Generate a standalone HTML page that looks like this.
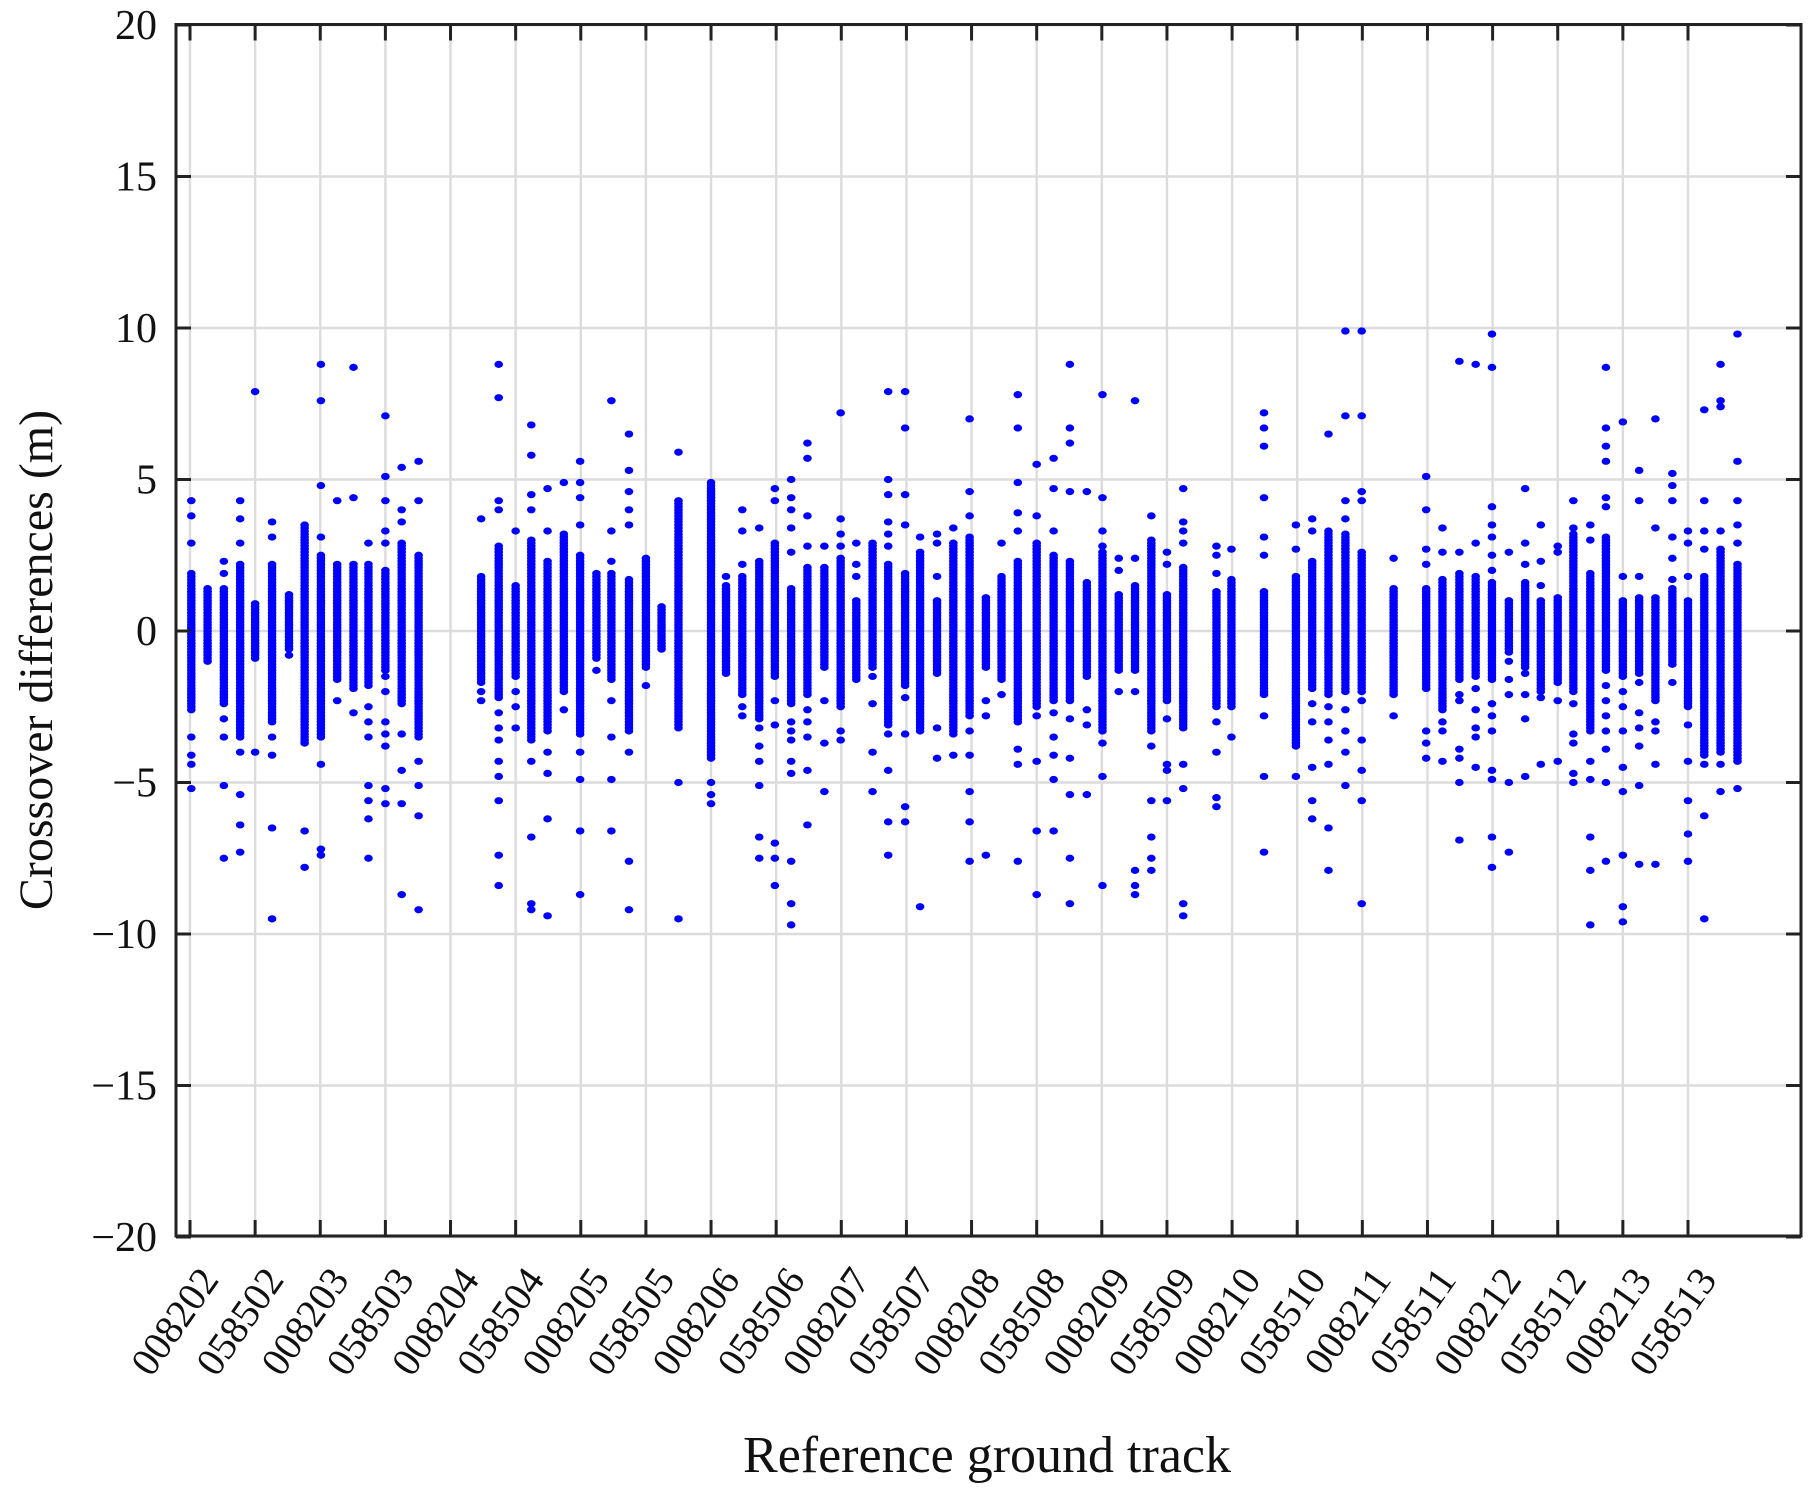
<!DOCTYPE html>
<html>
<head>
<meta charset="utf-8">
<style>
  html,body{margin:0;padding:0;background:#fff;}
  svg{display:block;}
  text{font-family:"Liberation Serif","DejaVu Serif",serif;fill:#111;}
</style>
</head>
<body>
<svg id="chart" width="1817" height="1493" viewBox="0 0 1817 1493" xmlns="http://www.w3.org/2000/svg">
  <rect x="0" y="0" width="1817" height="1493" fill="#fff"/>
  <g id="grid"></g>
  <g id="marks"></g>
  <g id="axes"></g>
  <text transform="translate(52,660) rotate(-90)" text-anchor="middle" font-size="48">Crossover differences (m)</text>
  <text x="987" y="1472" text-anchor="middle" font-size="52">Reference ground track</text>
</svg>
<script>
// ---- data ----
const trackLabels = ["008202","058502","008203","058503","008204","058504","008205","058505","008206","058506","008207","058507","008208","058508","008209","058509","008210","058510","008211","058511","008212","058512","008213","058513"];
const yTicks = [20,15,10,5,0,-5,-10,-15,-20];
const colPos = [0.02,0.27,0.52,0.77,1.0,1.26,1.52,1.76,2.01,2.26,2.51,2.74,3.0,3.25,3.51,4.47,4.74,5.0,5.24,5.49,5.74,5.99,6.24,6.47,6.74,7.0,7.24,7.5,8.0,8.23,8.48,8.74,8.98,9.23,9.48,9.74,9.99,10.23,10.48,10.72,10.98,11.21,11.47,11.72,11.97,12.22,12.46,12.71,13.0,13.26,13.51,13.77,14.01,14.26,14.51,14.76,15.0,15.25,15.76,15.99,16.49,16.98,17.23,17.48,17.74,17.99,18.48,18.98,19.23,19.49,19.74,19.99,20.25,20.5,20.74,21.0,21.24,21.5,21.74,22.0,22.25,22.5,22.76,23.0,23.25,23.5,23.76];
const colHi = [1.9,1.4,1.4,2.2,0.9,2.2,1.2,3.5,2.5,2.2,2.2,2.2,2.0,2.9,2.5,1.8,2.8,1.5,3.0,2.3,3.2,2.5,1.9,1.9,1.7,2.4,0.8,4.3,4.9,1.5,1.8,2.3,2.9,1.4,2.1,2.1,2.4,1.0,2.9,2.2,1.9,2.6,1.0,2.9,3.1,1.1,1.8,2.3,2.9,2.5,2.3,1.6,2.6,1.2,1.5,3.0,1.2,2.1,1.3,1.7,1.3,1.8,2.3,3.3,3.2,2.6,1.4,1.4,1.7,1.9,1.8,1.6,1.0,1.6,1.0,1.1,3.2,1.9,3.1,1.0,1.1,1.1,1.4,1.0,1.8,2.7,2.2];
const colLo = [-2.6,-1.0,-2.4,-3.5,-0.9,-3.0,-0.6,-3.7,-3.5,-1.6,-1.9,-1.8,-1.3,-2.4,-3.5,-1.7,-2.2,-1.5,-3.6,-3.3,-2.0,-3.4,-0.9,-1.6,-3.3,-1.2,-0.6,-3.2,-4.2,-1.4,-2.1,-2.9,-1.5,-2.4,-2.1,-1.2,-2.5,-1.6,-1.2,-3.1,-1.8,-3.3,-1.4,-3.4,-2.8,-1.2,-1.6,-3.0,-2.5,-2.3,-2.3,-1.5,-3.3,-1.3,-1.3,-3.3,-2.3,-3.2,-2.5,-2.5,-2.1,-3.8,-1.9,-2.1,-2.0,-2.0,-2.1,-1.9,-2.6,-1.6,-1.5,-1.6,-0.7,-1.2,-2.0,-1.7,-2.0,-3.3,-1.3,-1.5,-1.4,-2.3,-1.1,-2.5,-4.1,-4.0,-4.3];
const colOutliers = [
 [4.3,3.8,2.9,-3.5,-4.1,-4.4,-5.2],[],[2.3,1.9,-2.9,-3.5,-5.1,-7.5],[4.3,3.7,2.9,-4.0,-5.4,-6.4,-7.3],[7.9,-4.0],
 [3.6,3.1,-3.5,-4.1,-6.5,-9.5],[-0.8],[-6.6,-7.8],[8.8,7.6,4.8,3.1,-4.4,-7.2,-7.4],[4.3,-2.3],
 [8.7,4.4,-2.7],[2.9,-2.5,-3.0,-3.5,-5.1,-5.6,-6.2,-7.5],[7.1,5.1,4.3,3.3,2.9,-1.5,-2.0,-3.0,-3.4,-3.8,-5.2,-5.7],[5.4,4.0,3.6,-3.4,-4.6,-5.7,-8.7],[5.6,4.3,-4.3,-5.1,-6.1,-9.2],
 [3.7,-2.0,-2.3],[8.8,7.7,4.3,4.0,-2.7,-3.2,-3.6,-4.3,-4.8,-5.6,-7.4,-8.4],[3.3,-2.0,-2.5,-3.2],[6.8,5.8,4.5,4.0,-4.3,-6.8,-9.0,-9.2],[4.7,3.3,-4.0,-4.7,-6.2,-9.4],
 [4.9,-2.6],[5.6,4.9,4.4,3.5,-4.0,-4.9,-6.6,-8.7],[-1.3],[7.6,3.3,2.3,-2.3,-3.5,-4.9,-6.6],[6.5,5.3,4.6,4.0,3.5,-4.0,-7.6,-9.2],
 [-1.8],[],[5.9,-5.0,-9.5],[-5.0,-5.4,-5.7],[1.8],
 [4.0,3.3,2.2,-2.5,-2.8],[3.4,-3.2,-3.8,-4.3,-5.1,-6.8,-7.5],[4.7,4.3,-2.3,-3.1,-7.0,-7.5,-8.4],[5.0,4.4,4.0,3.4,2.6,-3.0,-3.3,-3.6,-4.3,-4.7,-7.6,-9.0,-9.7],[6.2,5.7,3.8,2.8,-2.6,-3.0,-3.5,-4.6,-6.4],
 [2.8,-2.3,-3.7,-5.3],[7.2,3.7,3.2,2.8,-3.3,-3.6],[2.9,2.2,1.8],[-1.5,-2.4,-4.0,-5.3],[7.9,5.0,4.5,3.6,3.2,2.8,-3.4,-4.6,-6.3,-7.4],
 [7.9,6.7,4.5,3.5,-2.2,-3.4,-5.8,-6.3],[3.1,-9.1],[3.2,2.9,1.8,-3.2,-4.2],[3.4,-4.1],[7.0,4.6,3.8,-3.3,-4.1,-5.3,-6.3,-7.6],
 [-2.3,-2.8,-7.4],[2.9,-2.1],[7.8,6.7,4.9,3.9,3.3,-3.9,-4.4,-7.6],[5.5,3.8,-2.8,-4.3,-6.6,-8.7],[5.7,4.7,3.3,-2.7,-3.5,-4.1,-4.9,-6.6],
 [8.8,6.7,6.2,4.6,-2.9,-4.2,-5.4,-7.5,-9.0],[4.6,-2.6,-3.1,-5.4],[7.8,4.4,3.3,2.8,-3.7,-4.8,-8.4],[2.4,2.0,-2.0],[7.6,2.4,-2.0,-7.9,-8.4,-8.7],
 [3.8,-3.8,-5.6,-6.8,-7.5,-7.9],[2.6,2.2,-2.9,-4.4,-4.6,-5.6],[4.7,3.6,3.3,2.9,-4.4,-5.2,-9.0,-9.4],[2.8,2.5,1.9,-3.0,-4.0,-5.5,-5.8],[2.7,-3.5],
 [7.2,6.7,6.1,4.4,3.1,2.5,-2.8,-4.8,-7.3],[3.5,2.7,-4.8],[3.7,3.3,-2.4,-3.0,-4.5,-5.6,-6.2],[6.5,-2.5,-3.0,-3.6,-4.4,-6.5,-7.9],[9.9,7.1,4.3,3.7,-2.6,-3.3,-4.0,-5.1],
 [9.9,7.1,4.6,4.3,-2.3,-3.6,-4.6,-5.6,-9.0],[2.4,-2.8],[5.1,4.0,2.7,2.2,-3.3,-3.7,-4.2],[3.4,2.6,-3.0,-3.3,-4.3],[8.9,2.6,-2.1,-2.3,-3.9,-4.2,-5.0,-6.9],
 [8.8,2.9,-1.9,-2.6,-3.2,-3.5,-4.5],[9.8,8.7,4.1,3.5,3.1,2.5,2.0,-2.4,-2.8,-3.3,-4.6,-4.9,-6.8,-7.8],[2.6,-1.0,-1.6,-2.1,-5.0,-7.3],[4.7,2.9,2.2,-1.4,-2.1,-2.9,-4.8],[3.5,2.3,1.5,-2.2,-4.4],
 [2.8,2.6,-2.3,-4.3],[4.3,3.4,-2.4,-3.4,-3.7,-4.7,-5.0],[3.5,3.0,-4.3,-4.9,-6.8,-7.9,-9.7],[8.7,6.7,6.1,5.6,4.4,4.1,-1.8,-2.3,-2.8,-3.3,-3.9,-5.0,-7.6],[6.9,1.8,-2.0,-2.5,-3.3,-4.5,-5.3,-7.4,-9.1,-9.6],
 [5.3,4.3,1.8,-1.7,-2.7,-3.2,-3.8,-5.1,-7.7],[7.0,3.4,-3.0,-3.3,-4.4,-7.7],[5.2,4.8,4.3,3.1,2.4,1.7,-1.7],[3.3,2.9,1.8,-3.1,-4.3,-5.6,-6.7,-7.6],[7.3,4.3,3.3,2.7,-4.4,-6.1,-9.5],
 [8.8,7.6,7.4,3.3,-4.4,-5.3],[9.8,5.6,4.3,3.5,2.9,-5.2]
];

// ---- layout ----
const L = 176, R = 1801, T = 24.5, B = 1236;
const X0 = 190, DX = 65.13;
function xs(u){ return X0 + u * DX; }
function ys(v){ return 631 - v * 30.3; }
const NS = "http://www.w3.org/2000/svg";
function mk(tag, attrs, parent){
  const e = document.createElementNS(NS, tag);
  for (const k in attrs) e.setAttribute(k, attrs[k]);
  parent.appendChild(e);
  return e;
}
const grid = document.getElementById('grid');
const marks = document.getElementById('marks');
const axes = document.getElementById('axes');

trackLabels.forEach((lab, i) => {
  const l = mk('line', {x1: xs(i), x2: xs(i), y1: T, y2: B, stroke: '#dcdcdc', 'stroke-width': 2.4}, grid);
  
  
});
yTicks.forEach(v => {
  const l = mk('line', {x1: L, x2: R, y1: ys(v), y2: ys(v), stroke: '#dcdcdc', 'stroke-width': 2.4}, grid);
  
  
});

colPos.forEach((u, i) => {
  const g = mk('g', {fill: '#0000ff'}, marks);
  
  
  const x = xs(u);
  const hi = colHi[i], lo = colLo[i];
  for (let v = lo; v <= hi + 1e-6; v += 0.1) {
    const c = mk('ellipse', {cx: x, cy: ys(v), rx: 4.3, ry: 3.6}, g);
    
    
  }
  colOutliers[i].forEach(v => {
    const c = mk('ellipse', {cx: x, cy: ys(v), rx: 4.3, ry: 3.6}, g);
    
    
  });
});

const box = mk('rect', {x: L, y: T, width: R - L, height: B - T, fill: 'none', stroke: '#222', 'stroke-width': 3}, axes);



trackLabels.forEach((lab, i) => {
  const x = xs(i);
  const t1 = mk('line', {x1: x, x2: x, y1: B, y2: B - 16, stroke: '#222', 'stroke-width': 3}, axes);
  
  
  const t2 = mk('line', {x1: x, x2: x, y1: T, y2: T + 16, stroke: '#222', 'stroke-width': 3}, axes);
  
  
  const tx = mk('text', {transform: 'translate(' + (x + 30) + ',1280) rotate(-55)', 'text-anchor': 'end', 'font-size': 40}, axes);
  tx.textContent = lab;
  
  
});

yTicks.forEach(v => {
  const y = ys(v);
  const t1 = mk('line', {x1: L, x2: L + 15, y1: y, y2: y, stroke: '#222', 'stroke-width': 3}, axes);
  
  
  const t2 = mk('line', {x1: R, x2: R - 15, y1: y, y2: y, stroke: '#222', 'stroke-width': 3}, axes);
  
  
  const tx = mk('text', {x: 157, y: y + 14, 'text-anchor': 'end', 'font-size': 42}, axes);
  tx.textContent = v < 0 ? '\u2212' + Math.abs(v) : String(v);
  
  
});
</script>
</body>
</html>
